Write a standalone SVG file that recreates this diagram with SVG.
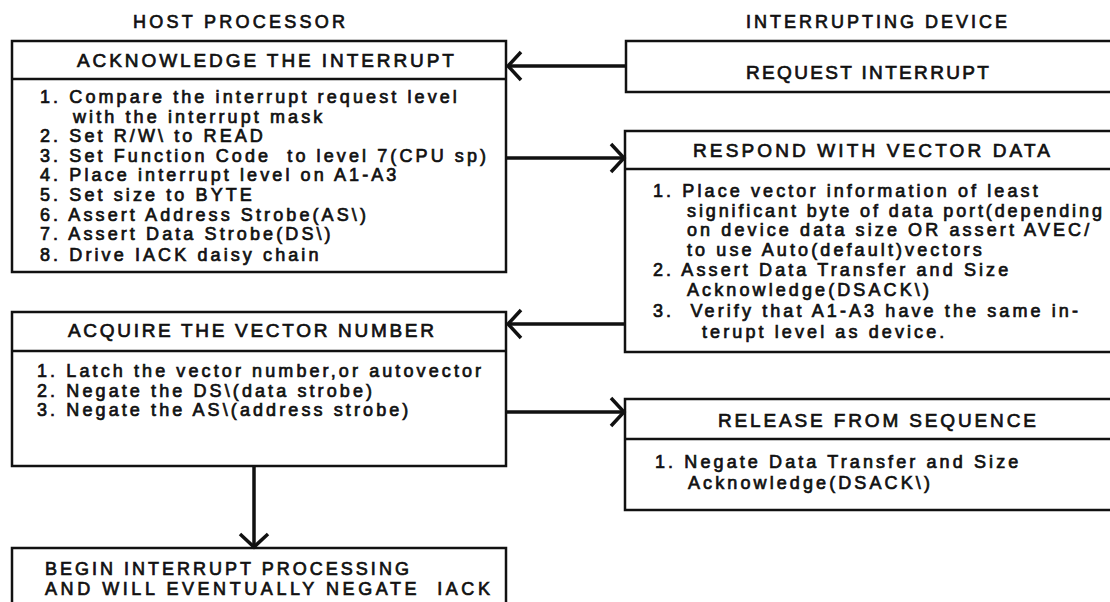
<svg xmlns="http://www.w3.org/2000/svg" width="1110" height="602" viewBox="0 0 1110 602">
<style>
.box{fill:#fff;stroke:#111;stroke-width:2.5}
.dv{stroke:#111;stroke-width:2.5;fill:none}
.t{font-family:"Liberation Sans",Arial,Helvetica,sans-serif;font-size:18px;letter-spacing:3.1px;fill:#111;stroke:#111;stroke-width:0.7;white-space:pre}
.h{font-size:19px}
.conn{stroke:#111;stroke-width:3.5;fill:none}
</style>
<defs>
<marker id="ah" markerUnits="userSpaceOnUse" markerWidth="30" markerHeight="34" viewBox="-16 -17 20 34" refX="0" refY="0" orient="auto">
<path d="M-13,-14 L0,0 L-13,14" fill="none" stroke="#111" stroke-width="3.5" stroke-linejoin="miter"/>
</marker>
</defs>
<rect width="1110" height="602" fill="#fff"/>

<g id="titles">
<text class="t" x="133" y="28" textLength="215" lengthAdjust="spacing">HOST PROCESSOR</text>
<text class="t" x="746" y="28" textLength="264" lengthAdjust="spacing">INTERRUPTING DEVICE</text>
</g>

<g id="ack">
<rect class="box" x="12" y="41" width="494" height="231"/>
<line class="dv" x1="12" y1="79" x2="506" y2="79"/>
<text class="t h" x="77" y="67" textLength="380" lengthAdjust="spacing">ACKNOWLEDGE THE INTERRUPT</text>
<text class="t" x="40" y="103">1. Compare the interrupt request level</text>
<text class="t" x="73" y="122.6">with the interrupt mask</text>
<text class="t" x="40" y="142.2">2. Set R/W\ to READ</text>
<text class="t" x="40" y="161.8">3. Set Function Code  to level 7(CPU sp)</text>
<text class="t" x="40" y="181.4">4. Place interrupt level on A1-A3</text>
<text class="t" x="40" y="201">5. Set size to BYTE</text>
<text class="t" x="40" y="220.6">6. Assert Address Strobe(AS\)</text>
<text class="t" x="40" y="240.2">7. Assert Data Strobe(DS\)</text>
<text class="t" x="40" y="261">8. Drive IACK daisy chain</text>
</g>

<g id="request">
<rect class="box" x="626" y="41" width="500" height="51"/>
<text class="t h" x="746" y="79" textLength="246" lengthAdjust="spacing">REQUEST INTERRUPT</text>
</g>

<g id="respond">
<rect class="box" x="625" y="131" width="500" height="221"/>
<line class="dv" x1="625" y1="169" x2="1110" y2="169"/>
<text class="t h" x="693" y="157" textLength="360" lengthAdjust="spacing">RESPOND WITH VECTOR DATA</text>
<text class="t" x="653" y="197">1. Place vector information of least</text>
<text class="t" x="687" y="216.5" textLength="418" lengthAdjust="spacing">significant byte of data port(depending</text>
<text class="t" x="687" y="236">on device data size OR assert AVEC/</text>
<text class="t" x="687" y="255.5">to use Auto(default)vectors</text>
<text class="t" x="653" y="276">2. Assert Data Transfer and Size</text>
<text class="t" x="687" y="296">Acknowledge(DSACK\)</text>
<text class="t" x="653" y="317">3.  Verify that A1-A3 have the same in-</text>
<text class="t" x="702" y="338">terupt level as device.</text>
</g>

<g id="acquire">
<rect class="box" x="12" y="312" width="494" height="154"/>
<line class="dv" x1="12" y1="351" x2="506" y2="351"/>
<text class="t h" x="68" y="337" textLength="369" lengthAdjust="spacing">ACQUIRE THE VECTOR NUMBER</text>
<text class="t" x="37" y="377">1. Latch the vector number,or autovector</text>
<text class="t" x="37" y="396.5">2. Negate the DS\(data strobe)</text>
<text class="t" x="37" y="416">3. Negate the AS\(address strobe)</text>
</g>

<g id="release">
<rect class="box" x="625" y="399" width="500" height="111"/>
<line class="dv" x1="625" y1="439" x2="1110" y2="439"/>
<text class="t h" x="718" y="427" textLength="321" lengthAdjust="spacing">RELEASE FROM SEQUENCE</text>
<text class="t" x="655" y="468">1. Negate Data Transfer and Size</text>
<text class="t" x="688" y="489">Acknowledge(DSACK\)</text>
</g>

<g id="begin">
<rect class="box" x="12" y="548" width="494" height="70"/>
<text class="t" x="45" y="575" textLength="367" lengthAdjust="spacing">BEGIN INTERRUPT PROCESSING</text>
<text class="t" x="45" y="595" textLength="448" lengthAdjust="spacing">AND WILL EVENTUALLY NEGATE  IACK</text>
</g>

<g id="connectors">
<line class="conn" x1="626" y1="66" x2="508" y2="66" marker-end="url(#ah)"/>
<line class="conn" x1="506" y1="158" x2="624" y2="158" marker-end="url(#ah)"/>
<line class="conn" x1="625" y1="324" x2="508" y2="324" marker-end="url(#ah)"/>
<line class="conn" x1="506" y1="412" x2="624" y2="412" marker-end="url(#ah)"/>
<line class="conn" x1="254" y1="466" x2="254" y2="547" marker-end="url(#ah)"/>
</g>
</svg>
